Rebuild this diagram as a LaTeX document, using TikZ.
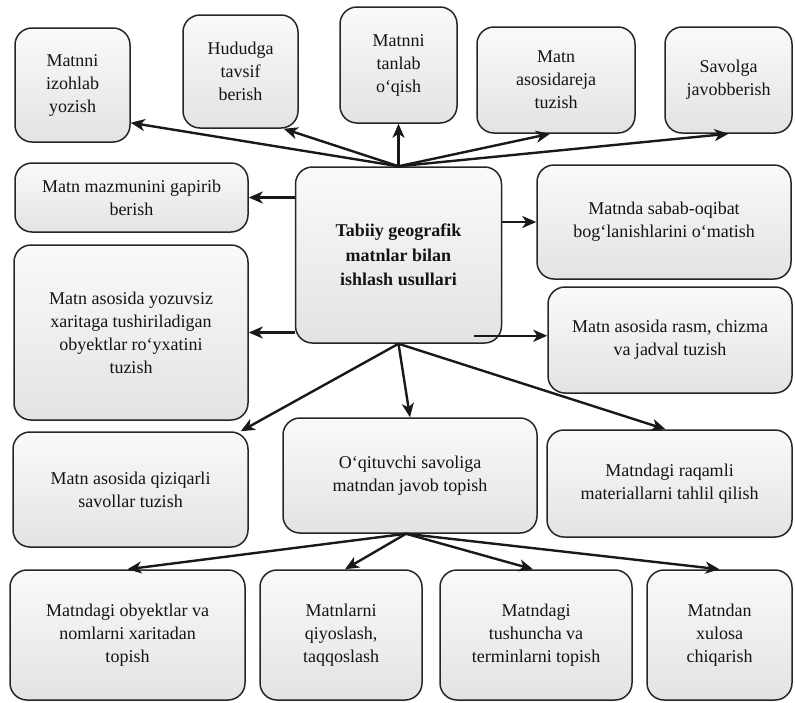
\documentclass[tikz,border=0pt]{standalone}
\usepackage{fontspec}
\setmainfont{Liberation Serif}
\usetikzlibrary{arrows.meta,calc}
\tikzset{
  box/.style={draw=black!85, line width=1.5pt, rounded corners=17pt,
    top color=black!2, bottom color=black!11, align=center,
    font=\fontsize{18}{23}\selectfont, text=black!92, inner sep=2pt},
  mainbox/.style={box, font=\bfseries\fontsize{18}{24.5}\selectfont},
  arr/.style={line width=2.4pt, -{Stealth[length=14pt,width=12pt,inset=4pt]}, black!90}
}
\begin{document}
\begin{tikzpicture}[x=1pt,y=-1pt]
\useasboundingbox (0,0) rectangle (795,702);
% top row
\node[box, minimum width=115, minimum height=114] (n1) at (72.5,85) {Matnni\\izohlab\\yozish};
\node[box, minimum width=115, minimum height=113] (n2) at (240.5,71.5) {Hududga\\tavsif\\berish};
\node[box, minimum width=117, minimum height=116] (n3) at (398.5,65) {Matnni\\tanlab\\o‘qish};
\node[box, minimum width=158, minimum height=106] (n4) at (556,80) {Matn\\asosidareja\\tuzish};
\node[box, minimum width=127, minimum height=106] (n5) at (728.5,80) {Savolga\\javobberish};
% row 2
\node[box, minimum width=233, minimum height=69] (n6) at (131.5,197.5) {Matn mazmunini gapirib\\berish};
\node[mainbox, minimum width=206, minimum height=176] (c) at (398.5,255) {Tabiiy geografik\\matnlar bilan\\ishlash usullari};
\node[box, minimum width=254, minimum height=114] (n8) at (664,222) {Matnda sabab-oqibat\\bog‘lanishlarini o‘matish};
% row 3
\node[box, minimum width=234, minimum height=175] (n9) at (131,332.5) {Matn asosida yozuvsiz\\xaritaga tushiriladigan\\obyektlar ro‘yxatini\\tuzish};
\node[box, minimum width=244, minimum height=106] (n10) at (670,340) {Matn asosida rasm, chizma\\va jadval tuzish};
% row 4
\node[box, minimum width=235, minimum height=115] (n11) at (130.5,489.5) {Matn asosida qiziqarli\\savollar tuzish};
\node[box, minimum width=254, minimum height=115] (n12) at (410,475.5) {O‘qituvchi savoliga\\matndan javob topish};
\node[box, minimum width=245, minimum height=107] (n13) at (669.5,483.5) {Matndagi raqamli\\materiallarni tahlil qilish};
% row 5
\node[box, minimum width=235, minimum height=130] (n14) at (127.5,635) {Matndagi obyektlar va\\nomlarni xaritadan\\topish};
\node[box, minimum width=162, minimum height=130] (n15) at (341,635) {Matnlarni\\qiyoslash,\\taqqoslash};
\node[box, minimum width=192, minimum height=130] (n16) at (536,635) {Matndagi\\tushuncha va\\terminlarni topish};
\node[box, minimum width=145, minimum height=130] (n17) at (719.5,635) {Matndan\\xulosa\\chiqarish};
% connectors
\coordinate (top) at (c.north);
\coordinate (bot) at (c.south);
\coordinate (bot2) at ($(n12.south)+(-4,0)$);
\coordinate (rs) at ($(c.south east)+(-28,-8)$);
\draw[arr] (top) -- ($(n1.south east)+(0,-20)$);
\draw[arr] (top) -- ($(n2.south east)+(-15,0)$);
\draw[arr] (top) -- (n3.south);
\draw[arr] (top) -- ($(n4.south)+(-6,0)$);
\draw[arr] (top) -- (n5.south);
\draw[arr] (c.west |- n6.east) -- (n6.east);
\draw[arr] (c.east |- n8.west) -- (n8.west);
\draw[arr] (c.west |- n9.east) -- (n9.east);
\draw[arr] (rs) -- (n10.west |- rs);
\draw[arr] (bot) -- ($(n11.north east)+(-8,0)$);
\draw[arr] (bot) -- (n12.north);
\draw[arr] (bot) -- ($(n13.north)+(-4,0)$);
\draw[arr] (bot2) -- (n14.north);
\draw[arr] (bot2) -- ($(n15.north)+(4,0)$);
\draw[arr] (bot2) -- ($(n16.north)+(-3,0)$);
\draw[arr] (bot2) -- (n17.north);
\end{tikzpicture}
\end{document}
